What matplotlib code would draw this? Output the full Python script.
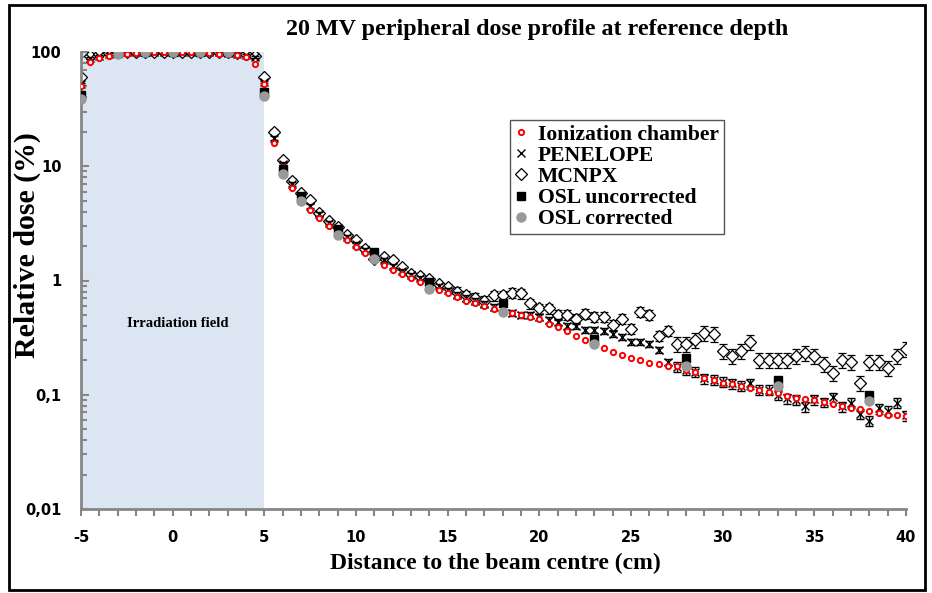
import numpy as np
import matplotlib
matplotlib.use('Agg')
import matplotlib.pyplot as plt
from matplotlib.patches import Rectangle
from matplotlib.ticker import FixedLocator, MultipleLocator, NullFormatter

# distance to beam centre (cm), every 0.5 cm
dist = np.arange(-5, 40.5, 0.5)

ion_chamber = [50, 82, 88, 92, 95, 97, 98, 98, 99, 99, 100, 99, 99, 98, 98, 97, 96, 94, 91, 78, 52,
               16.1, 9.9, 6.5, 5.2, 4.13, 3.5, 3.0, 2.6, 2.25, 1.95,
               1.73, 1.55, 1.38, 1.23, 1.13, 1.06, 0.975, 0.9, 0.83, 0.775,
               0.71, 0.66, 0.63, 0.6, 0.56, 0.54, 0.52, 0.5, 0.48, 0.46,
               0.42, 0.39, 0.36, 0.33, 0.30, 0.275, 0.254, 0.235, 0.225, 0.21,
               0.2, 0.19, 0.187, 0.18, 0.177, 0.165, 0.158, 0.14, 0.135, 0.128,
               0.124, 0.12, 0.114, 0.111, 0.106, 0.104, 0.097, 0.094, 0.092, 0.09,
               0.087, 0.083, 0.079, 0.076, 0.075, 0.072, 0.069, 0.067, 0.067, 0.065]

penelope = [53, 88, 93, 96, 98, 99, 100, 100, 100, 100, 100, 100, 100, 100, 100, 99, 98, 97, 95, 90, 55,
            17.6, 10.5, 7.0, 5.5, 4.5, 3.8, 3.2, 2.8, 2.4, 2.1,
            1.85, 1.65, 1.5, 1.35, 1.22, 1.12, 1.05, 0.97, 0.9, 0.82,
            0.75, 0.7, 0.66, 0.62, 0.59, 0.56, 0.52, 0.5, 0.5, 0.48,
            0.45, 0.43, 0.4, 0.4, 0.37, 0.37, 0.36, 0.34, 0.32, 0.29,
            0.29, 0.28, 0.245, 0.195, 0.176, 0.165, 0.158, 0.139, 0.135, 0.13,
            0.126, 0.12, 0.126, 0.111, 0.11, 0.1, 0.093, 0.09, 0.079, 0.091,
            0.086, 0.095, 0.079, 0.085, 0.068, 0.059, 0.076, 0.072, 0.085, 0.066]

mcnpx = [60, 92, 96, 98, 99, 100, 101, 101, 101, 101, 101, 101, 101, 101, 100, 100, 99, 98, 96, 92, 60,
         20, 11.3, 7.5, 5.8, 5.05, 3.9, 3.3, 2.95, 2.5, 2.25,
         1.9, 1.55, 1.6, 1.5, 1.3, 1.15, 1.1, 1.03, 0.93, 0.88,
         0.8, 0.74, 0.7, 0.66, 0.74, 0.74, 0.78, 0.77, 0.63, 0.57,
         0.57, 0.5, 0.5, 0.46, 0.51, 0.48, 0.48, 0.41, 0.46, 0.38,
         0.53, 0.5, 0.33, 0.36, 0.28, 0.28, 0.3, 0.35, 0.34, 0.24,
         0.22, 0.24, 0.29, 0.2, 0.2, 0.2, 0.2, 0.22, 0.23, 0.22,
         0.187, 0.155, 0.2, 0.195, 0.128, 0.195, 0.195, 0.172, 0.22, 0.25]

# relative uncertainties (%) of the Monte Carlo points
penelope_err = [2, 2, 2, 2, 2, 2, 2, 2, 2, 2, 2, 2, 2, 2, 2, 2, 2, 2, 2, 2, 2,
                4, 4, 4, 4, 4, 4, 4, 4, 4, 4, 4, 4, 4, 4, 4, 4, 4, 4, 4, 4,
                6, 6, 6, 6, 6, 6, 6, 6, 6, 6, 6, 6, 6, 6, 6, 6, 6, 6, 6, 6, 6, 6, 6, 6,
                10, 10, 10, 10, 10, 10, 10, 10, 10, 10, 10, 10, 10,
                10, 10, 10, 10, 10, 10, 10, 10, 10, 10, 10, 10, 10]
mcnpx_err = [3, 3, 3, 3, 3, 3, 3, 3, 3, 3, 3, 3, 3, 3, 3, 3, 3, 3, 3, 3, 3,
             5, 5, 5, 5, 5, 5, 5, 5, 5, 5, 5, 5, 5, 5, 5, 5, 5, 5, 5, 5,
             10, 10, 10, 10, 10, 10, 10, 10, 10, 10, 10, 10, 10, 10, 10, 10, 10, 10, 10, 10, 10, 10, 10, 10,
             15, 15, 15, 15, 15, 15, 15, 15, 15, 15, 15, 15, 15,
             15, 15, 15, 15, 15, 15, 15, 15, 15, 15, 15, 15, 15]

osl_dist = [-5, -3, -1.5, 0, 1.5, 3, 5, 6, 7, 9, 11, 14, 18, 23, 28, 33, 38]
osl_uncorrected = [42, 98, 100, 101, 100, 100, 45, 9.5, 5.5, 2.8, 1.78, 0.97, 0.63, 0.31, 0.21, 0.135, 0.1]
osl_corrected = [38.5, 97, 99, 101, 99, 99, 41.5, 8.5, 4.95, 2.5, 1.55, 0.85, 0.53, 0.28, 0.18, 0.12, 0.089]

serif = 'Liberation Serif'
sans = 'DejaVu Sans'
axis_grey = '#868686'

fig = plt.figure(figsize=(9.32, 5.93), dpi=100)
ax = fig.add_axes([81 / 932, 1 - 509 / 593, 825 / 932, 457 / 593])

ax.axvspan(-5, 5, color='#dce6f2', zorder=0, lw=0)

pen = np.array(penelope)
mc = np.array(mcnpx)
h_mc = ax.errorbar(dist, mc, yerr=mc * np.array(mcnpx_err) / 100, fmt='D', ms=6.5,
                   mfc='white', mec='black', mew=0.9, ecolor='black', elinewidth=1,
                   capsize=3, capthick=1.2, zorder=2)
h_pen = ax.errorbar(dist, pen, yerr=pen * np.array(penelope_err) / 100, fmt='x', ms=6,
                    mec='black', mew=1, ecolor='black', elinewidth=1,
                    capsize=3, capthick=1.2, zorder=3)
h_ion, = ax.plot(dist, ion_chamber, 'o', ms=3.8, mfc='white', mec='red', mew=1.4,
                 ls='none', zorder=4)
h_unc, = ax.plot(osl_dist, osl_uncorrected, 's', ms=6, color='black', ls='none', zorder=5)
h_cor, = ax.plot(osl_dist, osl_corrected, 'o', ms=6.5, color='#999999', ls='none', zorder=6)

ax.set_yscale('log')
ax.set_xlim(-5, 40)
ax.set_ylim(0.01, 100)

ax.xaxis.set_minor_locator(MultipleLocator(1))
ax.yaxis.set_major_locator(FixedLocator([0.01, 0.1, 1, 10, 100]))
ax.set_yticklabels(['0,01', '0,1', '1', '10', '100'])
ax.yaxis.set_minor_formatter(NullFormatter())
ax.set_xticks([-5, 0, 5, 10, 15, 20, 25, 30, 35, 40])
ax.set_xticklabels(['-5', '0', '5', '10', '15', '20', '25', '30', '35', '40'])

ax.tick_params(axis='x', which='both', direction='out', color=axis_grey, width=1.5)
ax.tick_params(axis='x', which='major', length=5, pad=10)
ax.tick_params(axis='x', which='minor', length=5)
ax.tick_params(axis='y', which='both', direction='in', color=axis_grey, width=1.5)
ax.tick_params(axis='y', which='major', length=6, pad=14)
ax.tick_params(axis='y', which='minor', length=4)
for lab in ax.get_xticklabels() + ax.get_yticklabels():
    lab.set_fontfamily(sans)
    lab.set_fontweight('bold')
    lab.set_fontsize(10.5)

for side in ['top', 'right']:
    ax.spines[side].set_visible(False)
for side in ['left', 'bottom']:
    ax.spines[side].set_color(axis_grey)
    ax.spines[side].set_linewidth(2)

ax.text(0.25, 0.42, 'Irradiation field', fontfamily=serif, fontweight='bold', fontsize=10.5,
        ha='center', va='center')

fig.text(537 / 932, 1 - 30 / 593, '20 MV peripheral dose profile at reference depth',
         fontfamily=serif, fontweight='bold', fontsize=17.3, ha='center', va='center')
fig.text(495 / 932, 1 - 563 / 593, 'Distance to the beam centre (cm)',
         fontfamily=serif, fontweight='bold', fontsize=17, ha='center', va='center')
fig.text(27 / 932, 1 - 245 / 593, 'Relative dose (%)', rotation=90,
         fontfamily=serif, fontweight='bold', fontsize=21.5, ha='center', va='center')

leg = fig.legend([h_ion, h_pen[0], h_mc[0], h_unc, h_cor],
                 ['Ionization chamber', 'PENELOPE', 'MCNPX', 'OSL uncorrected', 'OSL corrected'],
                 loc='upper left', bbox_to_anchor=(510 / 932, 1 - 120 / 593),
                 prop={'family': serif, 'weight': 'bold', 'size': 15.6},
                 frameon=True, fancybox=False, edgecolor='#555555', framealpha=1,
                 handlelength=0.6, handletextpad=0.5, borderpad=0.2, labelspacing=0.05,
                 borderaxespad=0)
leg.get_frame().set_linewidth(1)

fig.patches.append(Rectangle((9 / 932, 1 - 590 / 593), 916 / 932, 585 / 593,
                             transform=fig.transFigure, fill=False, ec='black', lw=2))

fig.savefig('out.png', dpi=100)
